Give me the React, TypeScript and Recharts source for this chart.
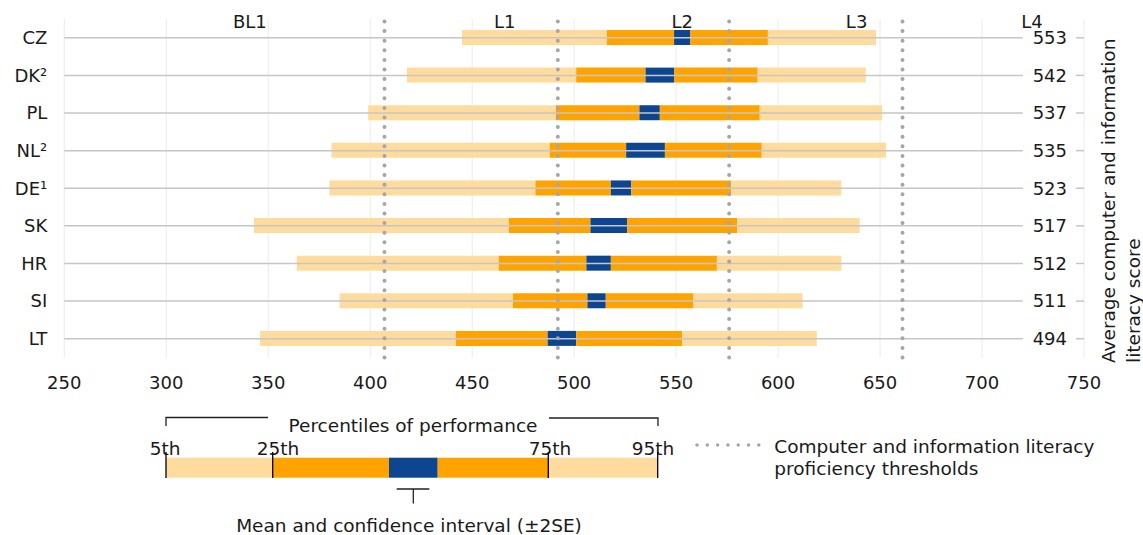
import React from 'react';
import { BarChart, Bar, XAxis, YAxis, CartesianGrid, ReferenceLine } from 'recharts';

const countries = ['CZ', 'DK²', 'PL', 'NL²', 'DE¹', 'SK', 'HR', 'SI', 'LT'];
const meanScore = [553, 542, 537, 535, 523, 517, 512, 511, 494];
const p5 = [445, 418, 399, 381, 380, 343, 364, 385, 346];
const p25 = [516, 501, 491, 488, 481, 468, 463, 470, 442];
const ciLow = [549, 535, 532, 525.5, 518, 508, 506, 506.5, 487];
const ciHigh = [557, 549, 542, 544.5, 528, 526, 518, 515.5, 501];
const p75 = [595, 590, 591, 592, 577, 580, 570, 558.5, 553];
const p95 = [648, 643, 651, 653, 631, 640, 631, 612, 619];

const xTicks = [250, 300, 350, 400, 450, 500, 550, 600, 650, 700, 750];
const thresholds = [407, 492, 576, 661];
const levelLabels = ['BL1', 'L1', 'L2', 'L3', 'L4'];
const levelLabelPos = [341, 466, 553, 638.5, 724.5];
const rowLineEnd = 720;

const LIGHT = '#FFDB9D';
const ORANGE = '#FFA300';
const BLUE = '#0D4590';
const DOT = '#A6A6A6';
const TEXT = '#1a1a1a';
const FS = 18;
const LFS = 18.5;

export default function App() {
  const data = countries.map((c, i) => ({
    country: c,
    mean: String(meanScore[i]),
    base: p5[i],
    s1: p25[i] - p5[i],
    s2: ciLow[i] - p25[i],
    s3: ciHigh[i] - ciLow[i],
    s4: p75[i] - ciHigh[i],
    s5: p95[i] - p75[i],
  }));

  return (
    <div style={{ position: 'relative', width: 1143, height: 535, fontFamily: '"DejaVu Sans", Verdana, sans-serif', background: '#fff' }}>
      <style>{'body{margin:0}'}</style>
      <BarChart
        width={1143}
        height={535}
        data={data}
        layout="vertical"
        barSize={15}
        margin={{ top: 19, right: 59, bottom: 147.5, left: 8 }}
      >
        <CartesianGrid horizontal={false} stroke="#EBEBEB" strokeWidth={1} />
        <XAxis
          type="number"
          domain={[250, 750]}
          ticks={xTicks}
          allowDataOverflow
          axisLine={false}
          tickLine={false}
          tickSize={0}
          tickMargin={19}
          height={30}
          tick={{ fontSize: FS, fill: TEXT }}
        />
        <YAxis
          type="category"
          dataKey="country"
          width={56.3}
          axisLine={false}
          tickLine={false}
          tickSize={0}
          tickMargin={17}
          tick={{ fontSize: FS, fill: TEXT }}
        />
        <YAxis
          yAxisId="right"
          orientation="right"
          type="category"
          dataKey="mean"
          mirror
          axisLine={false}
          tickSize={8}
          tickMargin={9}
          tickLine={{ stroke: '#C6C6C6', strokeWidth: 1.5 }}
          tick={{ fontSize: FS, fill: TEXT }}
        />
        {countries.map((c) => (
          <ReferenceLine
            key={'row-' + c}
            segment={[{ x: 250, y: c }, { x: rowLineEnd, y: c }]}
            stroke="#C6C6C6"
            strokeWidth={1.5}
          />
        ))}
        <Bar dataKey="base" stackId="a" fill="transparent" isAnimationActive={false} />
        <Bar dataKey="s1" stackId="a" fill={LIGHT} isAnimationActive={false} />
        <Bar dataKey="s2" stackId="a" fill={ORANGE} isAnimationActive={false} />
        <Bar dataKey="s3" stackId="a" fill={BLUE} isAnimationActive={false} />
        <Bar dataKey="s4" stackId="a" fill={ORANGE} isAnimationActive={false} />
        <Bar dataKey="s5" stackId="a" fill={LIGHT} isAnimationActive={false} />
        {thresholds.map((t) => (
          <ReferenceLine
            key={'th-' + t}
            x={t}
            stroke={DOT}
            strokeWidth={4}
            strokeDasharray="0 9.6"
            strokeLinecap="round"
          />
        ))}
        {levelLabels.map((l, i) => (
          <ReferenceLine
            key={'lv-' + l}
            x={levelLabelPos[i]}
            stroke="none"
            label={{ value: l, position: 'top', offset: -9, fill: TEXT, fontSize: FS }}
          />
        ))}
      </BarChart>
      <svg
        width={1143}
        height={535}
        style={{ position: 'absolute', left: 0, top: 0, pointerEvents: 'none' }}
        fontFamily='"DejaVu Sans", Verdana, sans-serif'
      >
        {/* right axis title */}
        <text transform="translate(1115,363) rotate(-90)" fontSize={18.5} fill={TEXT}>
          Average computer and information
        </text>
        <text transform="translate(1140,363) rotate(-90)" fontSize={18.5} fill={TEXT}>
          literacy score
        </text>
        {/* legend: percentiles */}
        <path d="M166 426 V417.5 H268" stroke="#222" strokeWidth={1.3} fill="none" />
        <path d="M549 418 H658 V426" stroke="#222" strokeWidth={1.3} fill="none" />
        <text x={413} y={431.5} textAnchor="middle" fontSize={LFS} fill={TEXT}>Percentiles of performance</text>
        <text x={165} y={455} textAnchor="middle" fontSize={LFS} fill={TEXT}>5th</text>
        <text x={278} y={455} textAnchor="middle" fontSize={LFS} fill={TEXT}>25th</text>
        <text x={550} y={455} textAnchor="middle" fontSize={LFS} fill={TEXT}>75th</text>
        <text x={653} y={455} textAnchor="middle" fontSize={LFS} fill={TEXT}>95th</text>
        <rect x={166} y={457.7} width={106.7} height={20} fill={LIGHT} />
        <rect x={272.7} y={457.7} width={116.3} height={20} fill={ORANGE} />
        <rect x={389} y={457.7} width={48.7} height={20} fill={BLUE} />
        <rect x={437.7} y={457.7} width={110.6} height={20} fill={ORANGE} />
        <rect x={548.3} y={457.7} width={109.4} height={20} fill={LIGHT} />
        {[166, 272.7, 548.3, 657.7].map((x) => (
          <line key={x} x1={x} x2={x} y1={452} y2={478} stroke="#000" strokeWidth={1.3} />
        ))}
        <path d="M396.7 489 H429.3 M413.3 489 V503.5" stroke="#222" strokeWidth={1.3} fill="none" />
        <text x={409} y={531.5} textAnchor="middle" fontSize={LFS} fill={TEXT}>Mean and confidence interval (±2SE)</text>
        {/* legend: thresholds */}
        <line x1={697} x2={759} y1={445} y2={445} stroke={DOT} strokeWidth={3.5} strokeDasharray="0 10.3" strokeLinecap="round" />
        <text x={774.3} y={453} fontSize={LFS} fill={TEXT}>Computer and information literacy</text>
        <text x={774.3} y={474.5} fontSize={LFS} fill={TEXT}>proficiency thresholds</text>
      </svg>
    </div>
  );
}
